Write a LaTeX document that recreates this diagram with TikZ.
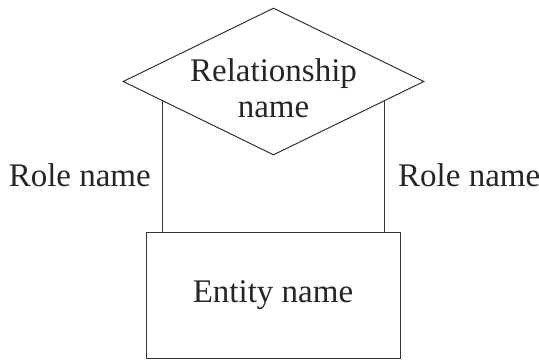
\documentclass[tikz,border=0pt]{standalone}
\usepackage{fontspec}
\setmainfont{Liberation Serif}
\usepackage{tikz}
\usetikzlibrary{shapes.geometric,positioning}

\tikzset{
    erline/.style={draw=black!80, line width=1pt},
    relbox/.style={erline, diamond, aspect=2.05, minimum width=301pt, minimum height=147pt, inner ysep=0pt, inner xsep=-12pt, align=center},
    entbox/.style={erline, rectangle, minimum width=254pt, minimum height=126pt, inner sep=0pt},
    rolelabel/.style={inner sep=0pt}
}

\begin{document}
\begin{tikzpicture}[x=1pt, y=-1pt, font=\fontsize{33}{36}\selectfont, text=black!85]
    \useasboundingbox (0,0) rectangle (539,360);

    % Relationship
    \node[relbox] (rel) at (273.5,81.5) {\rule{0pt}{37pt}Relationship\\name};

    % Entity
    \node[entbox] (ent) at (273,295) {Entity name};

    % Roles
    \draw[erline] (rel.190) -- (rel.190 |- ent.north);
    \draw[erline] (rel.350) -- (rel.350 |- ent.north);
    \node[rolelabel, anchor=base east] (roleL) at (151,186) {Role name};
    \node[rolelabel, anchor=base west] (roleR) at (398,186) {Role name};
\end{tikzpicture}
\end{document}
